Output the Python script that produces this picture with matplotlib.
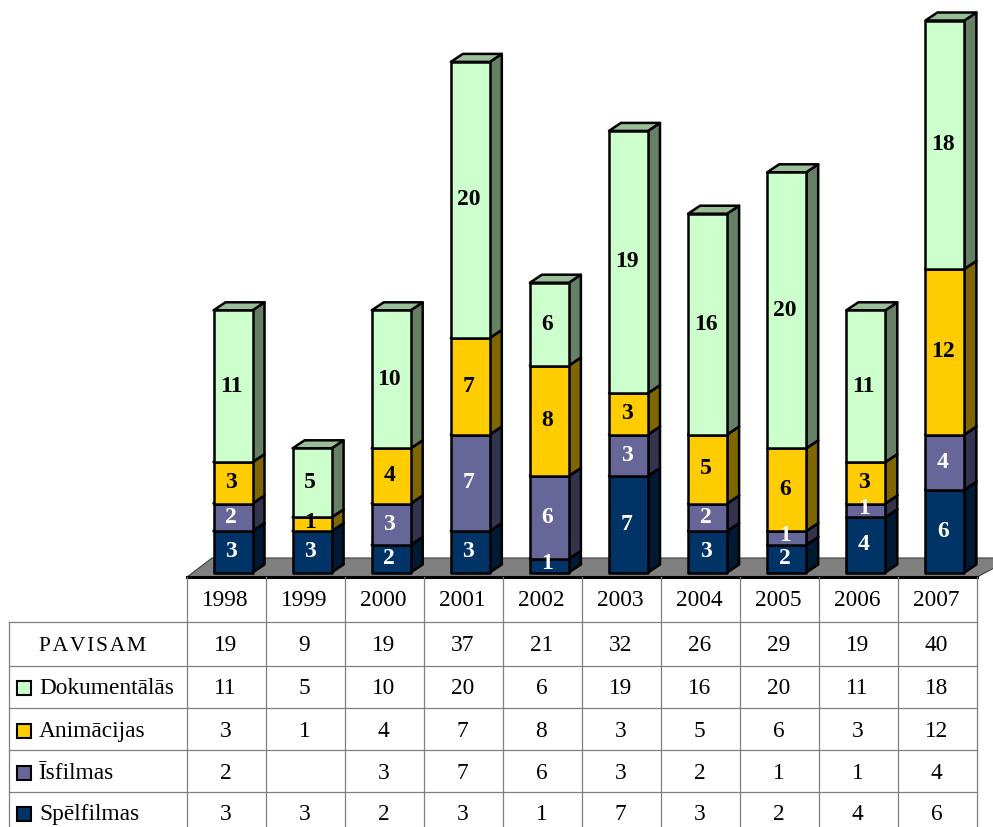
import numpy as np
import matplotlib
matplotlib.use("Agg")
import matplotlib.pyplot as plt
from matplotlib.colors import to_rgb
from matplotlib.patches import Polygon, Rectangle

plt.rcParams["font.family"] = ["Liberation Serif", "DejaVu Serif"]

years = [1998, 1999, 2000, 2001, 2002, 2003, 2004, 2005, 2006, 2007]
totals = [19, 9, 19, 37, 21, 32, 26, 29, 19, 40]
spelfilmas = [3, 3, 2, 3, 1, 7, 3, 2, 4, 6]
isfilmas = [2, 0, 3, 7, 6, 3, 2, 1, 1, 4]
animacijas = [3, 1, 4, 7, 8, 3, 5, 6, 3, 12]
dokumentalas = [11, 5, 10, 20, 6, 19, 16, 20, 11, 18]

# bottom to top, same order as the stacks
series = [("Spēlfilmas", spelfilmas, "#003366", "white"),
          ("Īsfilmas", isfilmas, "#666699", "white"),
          ("Animācijas", animacijas, "#FFCC00", "black"),
          ("Dokumentālās", dokumentalas, "#CCFFCC", "black")]

W, H = 993, 828
BASE_Y = 573.5      # pixel row of value 0
UNIT = 13.8         # pixels per film
FIRST_X = 233       # centre of first bar
STEP = 79.1
BAR_W = 39
DX, DY = 12, 8      # 3d depth of the bars

TABLE_LEFT = 9
COL_LEFT = 187
COL_W = 79
TABLE_TOP = 578
ROW_LINES = [623, 667, 709, 751, 793]
ROW_MID = [645, 688, 731, 773, 814]
TABLE_FONT = 16.8


def shade(color, k):
    return tuple(c * k for c in to_rgb(color))


def face(ax, pts, color, z):
    ax.add_patch(Polygon(pts, closed=True, facecolor=color, edgecolor="black",
                         linewidth=1.8, joinstyle="round", zorder=z))


fig = plt.figure(figsize=(W / 100, H / 100), dpi=100)
ax = fig.add_axes([0, 0, 1, 1])
ax.set_xlim(0, W)
ax.set_ylim(H, 0)
ax.axis("off")

# floor
ax.add_patch(Polygon([(COL_LEFT, TABLE_TOP), (COL_LEFT + 25, 559), (W + 20, 559),
                      (COL_LEFT + 10 * COL_W, TABLE_TOP)], closed=True,
                     facecolor="#808080", edgecolor="#404040", linewidth=0.8, zorder=1))
ax.plot([COL_LEFT, COL_LEFT + 10 * COL_W], [TABLE_TOP, TABLE_TOP], color="black", lw=2.2, zorder=2)

# stacked bars
for i in range(len(years)):
    left = FIRST_X + STEP * i - BAR_W / 2
    right = left + BAR_W
    bottom = 0
    z = 3
    for name, values, color, label_color in series:
        v = values[i]
        if v == 0:
            continue
        y0 = BASE_Y - bottom * UNIT
        y1 = BASE_Y - (bottom + v) * UNIT
        face(ax, [(right, y0), (right + DX, y0 - DY), (right + DX, y1 - DY), (right, y1)],
             shade(color, 0.5), z)
        face(ax, [(left, y1), (right, y1), (right + DX, y1 - DY), (left + DX, y1 - DY)],
             shade(color, 0.75), z)
        face(ax, [(left, y0), (right, y0), (right, y1), (left, y1)], color, z + 0.1)
        # thin segments keep their label closer to the top, as in the original
        lift = 3 if v == 1 else 1
        ax.text((left + right) / 2 - 2, (y0 + y1) / 2 - lift, str(v), ha="center", va="center",
                fontsize=17, fontweight="bold", color=label_color, zorder=20)
        bottom += v
        z += 1

# table grid
grid = dict(color="#7f7f7f", lw=0.9, zorder=2)
ax.plot([TABLE_LEFT, W - 16], [ROW_LINES[0], ROW_LINES[0]], **grid)
for y in ROW_LINES[1:]:
    ax.plot([TABLE_LEFT, COL_LEFT + 10 * COL_W], [y, y], **grid)
ax.plot([TABLE_LEFT, TABLE_LEFT], [ROW_LINES[0], H], **grid)
for c in range(11):
    x = COL_LEFT + c * COL_W
    ax.plot([x, x], [TABLE_TOP, H], **grid)

# table text
rows = [totals, dokumentalas, animacijas, isfilmas, spelfilmas]
for c, year in enumerate(years):
    x = COL_LEFT + (c + 0.5) * COL_W - 1
    ax.text(x, 601, str(year), ha="center", va="center", fontsize=TABLE_FONT, zorder=5)
    for values, y in zip(rows, ROW_MID):
        if values is isfilmas and values[c] == 0:
            continue
        ax.text(x, y + 1, str(values[c]), ha="center", va="center", fontsize=TABLE_FONT, zorder=5)

ax.text(39, ROW_MID[0] + 2, "\u200a".join("PAVISAM"), ha="left", va="center", fontsize=15.5, zorder=5)
for (name, values, color, label_color), y in zip(series[::-1], ROW_MID[1:]):
    ax.add_patch(Rectangle((17, y - 6), 14, 14, facecolor=color, edgecolor="black",
                           linewidth=1.5, zorder=5))
    ax.text(39, y + 1, name, ha="left", va="center", fontsize=TABLE_FONT, zorder=5)

fig.savefig("out.png", dpi=100)
